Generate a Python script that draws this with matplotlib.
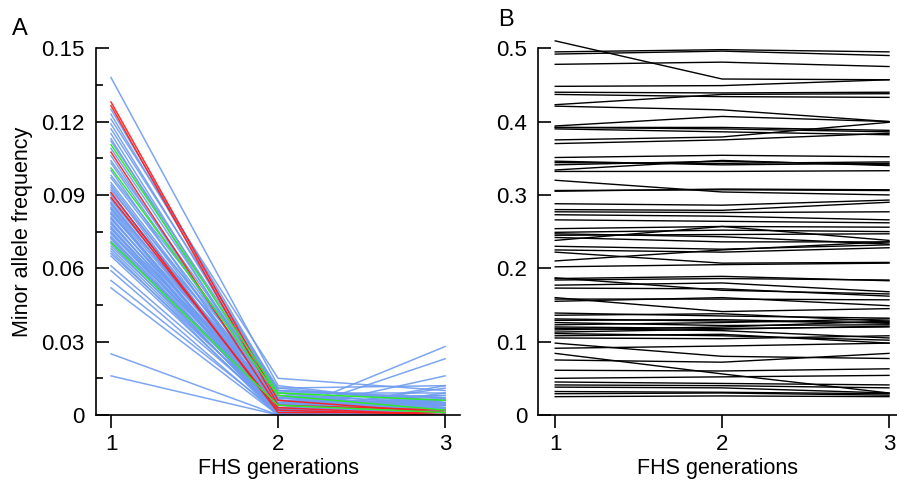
#!/usr/bin/env python3
import matplotlib
matplotlib.use('Agg')
import matplotlib.pyplot as plt
from matplotlib.ticker import MultipleLocator

plt.rcParams['font.family'] = ['Liberation Sans', 'DejaVu Sans']

gens = [1, 2, 3]

## Panel A - blue lines (generation 1, 2, 3)
blue_g1 = [0.138, 0.125, 0.123, 0.121, 0.119, 0.117, 0.115, 0.113, 0.112, 0.109,
           0.106, 0.104, 0.103, 0.100, 0.098, 0.097, 0.095, 0.094, 0.093, 0.092,
           0.090, 0.0905, 0.088, 0.0885, 0.087, 0.086, 0.0865, 0.085, 0.084, 0.0845,
           0.083, 0.082, 0.0825, 0.081, 0.080, 0.0805, 0.079, 0.078, 0.0785, 0.077,
           0.076, 0.0765, 0.075, 0.0745, 0.074, 0.073, 0.0725, 0.072, 0.071, 0.070,
           0.069, 0.068, 0.067, 0.066, 0.065, 0.061, 0.059, 0.055, 0.052, 0.025,
           0.016]
blue_g2 = [0.012, 0.010, 0.009, 0.015, 0.008, 0.011, 0.006, 0.004, 0.010, 0.007,
           0.003, 0.009, 0.005, 0.002, 0.011, 0.008, 0.006, 0.004, 0.001, 0.010,
           0.007, 0.003, 0.005, 0.009, 0.002, 0.006, 0.004, 0.008, 0.001, 0.005,
           0.003, 0.007, 0.002, 0.000, 0.006, 0.004, 0.001, 0.005, 0.003, 0.002,
           0.007, 0.000, 0.004, 0.001, 0.006, 0.002, 0.003, 0.000, 0.005, 0.001,
           0.004, 0.002, 0.000, 0.003, 0.001, 0.002, 0.000, 0.001, 0.000, 0.000,
           0.000]
blue_g3 = [0.004, 0.006, 0.002, 0.010, 0.003, 0.005, 0.001, 0.008, 0.007, 0.002,
           0.000, 0.004, 0.006, 0.001, 0.012, 0.003, 0.005, 0.002, 0.000, 0.007,
           0.004, 0.001, 0.003, 0.009, 0.000, 0.002, 0.006, 0.005, 0.016, 0.001,
           0.003, 0.004, 0.000, 0.028, 0.002, 0.005, 0.011, 0.001, 0.006, 0.003,
           0.008, 0.023, 0.002, 0.000, 0.004, 0.007, 0.001, 0.012, 0.003, 0.002,
           0.005, 0.000, 0.009, 0.001, 0.004, 0.002, 0.006, 0.000, 0.003, 0.001,
           0.002]

## Panel A - highlighted lines
red_g1 = [0.128, 0.1265, 0.1075, 0.091, 0.089]
red_g2 = [0.006, 0.004, 0.003, 0.001, 0.002]
red_g3 = [0.001, 0.002, 0.000, 0.001, 0.000]

green_g1 = [0.1105, 0.101, 0.0705]
green_g2 = [0.009, 0.008, 0.004]
green_g3 = [0.006, 0.002, 0.001]

## Panel B - black lines
b_g1 = [0.510, 0.495, 0.492, 0.478, 0.448, 0.440, 0.437, 0.423, 0.421, 0.394,
        0.392, 0.390, 0.375, 0.370, 0.351, 0.344, 0.341, 0.334, 0.332, 0.320,
        0.305, 0.288, 0.280, 0.277, 0.273, 0.266, 0.254, 0.249, 0.245, 0.242,
        0.238, 0.230, 0.225, 0.222, 0.210, 0.202, 0.187, 0.184, 0.177, 0.173,
        0.160, 0.158, 0.155, 0.139, 0.136, 0.129, 0.126, 0.123, 0.120, 0.116,
        0.111, 0.108, 0.105, 0.098, 0.091, 0.084, 0.075, 0.061, 0.050, 0.045,
        0.041, 0.038, 0.032, 0.029, 0.025,
        0.346, 0.247, 0.131, 0.118, 0.113, 0.186, 0.306, 0.392]
b_g2 = [0.458, 0.498, 0.496, 0.481, 0.449, 0.439, 0.434, 0.437, 0.416, 0.407,
        0.392, 0.386, 0.379, 0.375, 0.354, 0.343, 0.346, 0.347, 0.332, 0.304,
        0.308, 0.286, 0.279, 0.276, 0.271, 0.264, 0.257, 0.252, 0.246, 0.236,
        0.257, 0.226, 0.222, 0.207, 0.225, 0.205, 0.170, 0.186, 0.180, 0.172,
        0.141, 0.158, 0.160, 0.135, 0.138, 0.130, 0.122, 0.126, 0.118, 0.120,
        0.108, 0.110, 0.104, 0.080, 0.094, 0.056, 0.072, 0.060, 0.052, 0.043,
        0.040, 0.037, 0.031, 0.030, 0.026,
        0.341, 0.243, 0.128, 0.115, 0.117, 0.189, 0.307, 0.390]
b_g3 = [0.457, 0.495, 0.490, 0.475, 0.457, 0.440, 0.433, 0.438, 0.400, 0.400,
        0.388, 0.382, 0.399, 0.384, 0.352, 0.345, 0.341, 0.340, 0.333, 0.300,
        0.307, 0.293, 0.290, 0.277, 0.266, 0.262, 0.256, 0.250, 0.247, 0.236,
        0.238, 0.232, 0.228, 0.208, 0.236, 0.207, 0.165, 0.184, 0.168, 0.162,
        0.145, 0.157, 0.149, 0.132, 0.128, 0.125, 0.123, 0.131, 0.120, 0.128,
        0.102, 0.098, 0.108, 0.077, 0.098, 0.030, 0.084, 0.063, 0.054, 0.041,
        0.037, 0.030, 0.029, 0.027, 0.025,
        0.343, 0.233, 0.126, 0.105, 0.121, 0.183, 0.306, 0.386]

fig = plt.figure(figsize=(8.97, 4.82), dpi=100)
axA = fig.add_axes([0.107, 0.139, 0.406, 0.761])
axB = fig.add_axes([0.600, 0.139, 0.400, 0.761])

for i in range(len(blue_g1)):
    axA.plot(gens, [blue_g1[i], blue_g2[i], blue_g3[i]], color='#6f9cf0', lw=1.1, alpha=0.9)
for i in range(len(red_g1)):
    axA.plot(gens, [red_g1[i], red_g2[i], red_g3[i]], color='#ff1a1a', lw=1.1, alpha=0.9)
for i in range(len(green_g1)):
    axA.plot(gens, [green_g1[i], green_g2[i], green_g3[i]], color='#2ee82e', lw=1.1)

for i in range(len(b_g1)):
    axB.plot(gens, [b_g1[i], b_g2[i], b_g3[i]], color='black', lw=1.0, clip_on=False)

axA.set_xlim(0.91, 3.09)
axA.set_ylim(0, 0.15)
axA.set_yticks([0, 0.03, 0.06, 0.09, 0.12, 0.15])
axA.set_yticklabels(['0', '0.03', '0.06', '0.09', '0.12', '0.15'])
axA.yaxis.set_minor_locator(MultipleLocator(0.015))
axA.set_ylabel('Minor allele frequency', fontsize=15.5, labelpad=6)

axB.set_xlim(0.898, 3.048)
axB.set_ylim(0, 0.5)
axB.set_yticks([0, 0.1, 0.2, 0.3, 0.4, 0.5])
axB.set_yticklabels(['0', '0.1', '0.2', '0.3', '0.4', '0.5'])

for ax in (axA, axB):
    ax.set_xticks(gens)
    ax.set_xlabel('FHS generations', fontsize=15.5, labelpad=2)
    ax.spines['top'].set_visible(False)
    ax.spines['right'].set_visible(False)
    ax.spines['left'].set_linewidth(1.2)
    ax.spines['bottom'].set_linewidth(1.2)
    ax.tick_params(axis='y', which='major', direction='in', length=9, width=1.2,
                   labelsize=16, pad=8)
    ax.tick_params(axis='y', which='minor', direction='in', length=5, width=1.2)
    ax.tick_params(axis='x', direction='out', length=9, width=1.2, labelsize=16, pad=5)
    ax.patch.set_visible(False)

fig.text(0.013, 0.94, 'A', fontsize=17, va='center')
fig.text(0.555, 0.958, 'B', fontsize=17, va='center')

plt.savefig('out.png', dpi=100)
